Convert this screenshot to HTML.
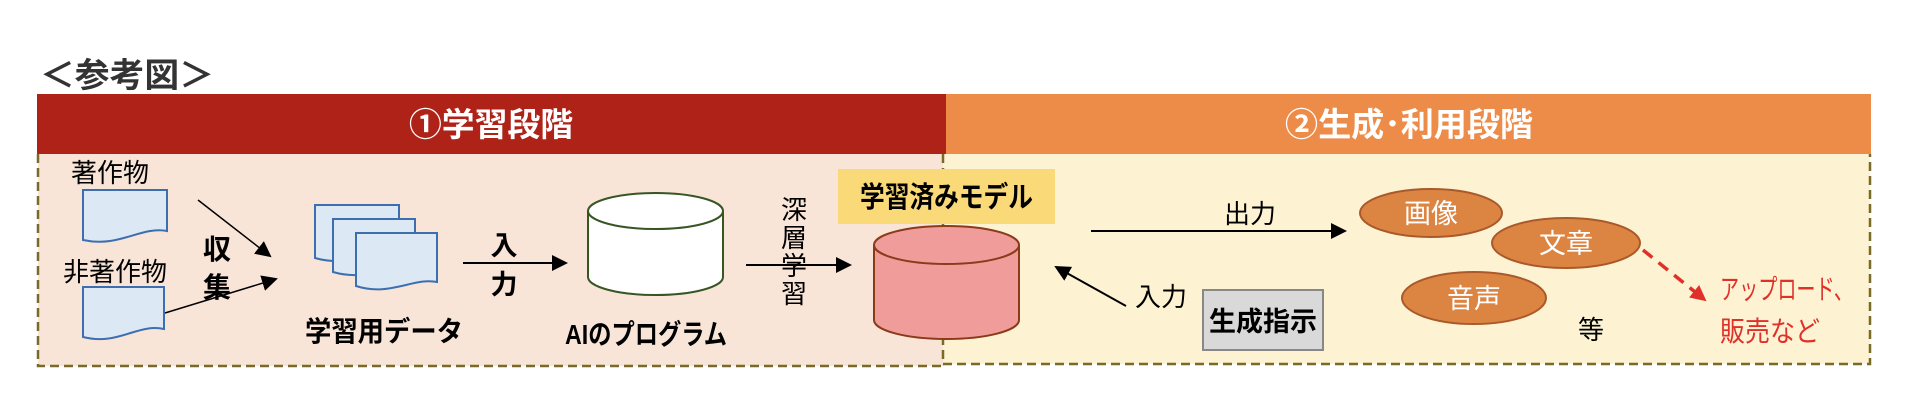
<!DOCTYPE html>
<html><head><meta charset="utf-8"><style>
html,body{margin:0;padding:0;background:#fff;width:1922px;height:410px;overflow:hidden}
svg text{font-family:"Liberation Sans","Noto Sans CJK JP",sans-serif}
</style></head><body>
<svg width="1922" height="410" viewBox="0 0 1922 410" xmlns="http://www.w3.org/2000/svg">
<defs>
<marker id="ahb" markerWidth="16" markerHeight="16" refX="14" refY="8" orient="auto" markerUnits="userSpaceOnUse" viewBox="0 0 16 16"><path d="M0,0 L16,8 L0,16 z" fill="#000"/></marker>
<marker id="ahr" markerWidth="16" markerHeight="16" refX="14" refY="8" orient="auto" markerUnits="userSpaceOnUse" viewBox="0 0 16 16"><path d="M0,0 L16,8 L0,16 z" fill="#e0302a"/></marker>
</defs>
<text x="40" y="87" font-size="34" fill="#333" font-weight="bold" textLength="174" lengthAdjust="spacingAndGlyphs">＜参考図＞</text>
<rect x="38" y="154" width="906" height="212" fill="#f8e5d8"/>
<rect x="943" y="154" width="927" height="210" fill="#fdf3d3"/>
<path d="M38,154 V366 H944" fill="none" stroke="#7a6a2a" stroke-width="2.5" stroke-dasharray="9,5"/>
<path d="M943,154 V364 H1870 V154" fill="none" stroke="#7a6a2a" stroke-width="2.5" stroke-dasharray="9,5"/>
<rect x="37" y="94" width="909" height="60" fill="#ae2218"/>
<rect x="946" y="94" width="925" height="60" fill="#ed8b48"/>
<text x="409" y="136" font-size="33" font-weight="bold" fill="#fff" textLength="164" lengthAdjust="spacingAndGlyphs">①学習段階</text>
<text x="1285" y="136" font-size="33" font-weight="bold" fill="#fff" textLength="248" lengthAdjust="spacingAndGlyphs">②生成･利用段階</text>
<text x="110" y="182" font-size="26" text-anchor="middle">著作物</text>
<path d="M83,190 H167 V231 C140,226 120,248 83,240 Z" fill="#dde8f5" stroke="#3d6fb0" stroke-width="2"/>
<text x="115" y="281" font-size="26" text-anchor="middle">非著作物</text>
<path d="M83,287 H164 V329 C138,323 118,346 83,337 Z" fill="#dde8f5" stroke="#3d6fb0" stroke-width="2"/>
<line x1="198" y1="200" x2="270" y2="256" stroke="#000" stroke-width="1.5" marker-end="url(#ahb)"/>
<line x1="165" y1="313" x2="276" y2="279" stroke="#000" stroke-width="1.5" marker-end="url(#ahb)"/>
<text x="217" y="259" font-size="28" font-weight="bold" text-anchor="middle">収</text>
<text x="217" y="297" font-size="28" font-weight="bold" text-anchor="middle">集</text>
<path d="M315,205 H399 V255 C375,250 350,268 315,258 Z" fill="#dde8f5" stroke="#3d6fb0" stroke-width="2"/>
<path d="M333,219 H415 V269 C392,264 367,282 333,272 Z" fill="#dde8f5" stroke="#3d6fb0" stroke-width="2"/>
<path d="M356,233 H437 V282 C414,277 390,297 356,286 Z" fill="#dde8f5" stroke="#3d6fb0" stroke-width="2"/>
<text x="305" y="341" font-size="28" font-weight="bold" textLength="158" lengthAdjust="spacingAndGlyphs">学習用データ</text>
<text x="504" y="255" font-size="27" font-weight="bold" text-anchor="middle">入</text>
<text x="504" y="294" font-size="27" font-weight="bold" text-anchor="middle">力</text>
<line x1="463" y1="263" x2="566" y2="263" stroke="#000" stroke-width="2" marker-end="url(#ahb)"/>
<path d="M588,211 V277 A67.5,18 0 0 0 723,277 V211" fill="#fff" stroke="#375623" stroke-width="2"/>
<ellipse cx="655.5" cy="211" rx="67.5" ry="18" fill="#fff" stroke="#375623" stroke-width="2"/>
<text x="565" y="344" font-size="28" font-weight="bold" textLength="162" lengthAdjust="spacingAndGlyphs">AIのプログラム</text>
<line x1="746" y1="265" x2="850" y2="265" stroke="#000" stroke-width="2" marker-end="url(#ahb)"/>
<g font-size="26" text-anchor="middle"><text x="794" y="219">深</text><text x="794" y="247">層</text><text x="794" y="275">学</text><text x="794" y="303">習</text></g>
<rect x="838" y="169" width="217" height="55" fill="#f9d978"/>
<text x="860" y="207" font-size="29" font-weight="bold" textLength="173" lengthAdjust="spacingAndGlyphs">学習済みモデル</text>
<path d="M874,245 V320 A72.5,19 0 0 0 1019,320 V245" fill="#f09c9a" stroke="#8b3a1a" stroke-width="2"/>
<ellipse cx="946.5" cy="245" rx="72.5" ry="19" fill="#f09c9a" stroke="#8b3a1a" stroke-width="2"/>
<text x="1250" y="223" font-size="26" text-anchor="middle">出力</text>
<line x1="1091" y1="231" x2="1345" y2="231" stroke="#000" stroke-width="2" marker-end="url(#ahb)"/>
<line x1="1126" y1="306" x2="1056" y2="267" stroke="#000" stroke-width="2" marker-end="url(#ahb)"/>
<text x="1161" y="306" font-size="26" text-anchor="middle">入力</text>
<rect x="1203" y="290" width="120" height="60" fill="#d9d9d9" stroke="#888" stroke-width="2"/>
<text x="1263" y="331" font-size="27" font-weight="bold" text-anchor="middle">生成指示</text>
<ellipse cx="1431" cy="213" rx="71" ry="24" fill="#dc8542" stroke="#a9592a" stroke-width="2"/>
<text x="1431" y="223" font-size="27" fill="#fff" text-anchor="middle">画像</text>
<ellipse cx="1566" cy="243" rx="74" ry="25" fill="#dc8542" stroke="#a9592a" stroke-width="2"/>
<text x="1566" y="253" font-size="27" fill="#fff" text-anchor="middle">文章</text>
<ellipse cx="1474" cy="298" rx="72" ry="26" fill="#dc8542" stroke="#a9592a" stroke-width="2"/>
<text x="1474" y="308" font-size="27" fill="#fff" text-anchor="middle">音声</text>
<text x="1591" y="339" font-size="26" text-anchor="middle">等</text>
<line x1="1643" y1="250" x2="1705" y2="300" stroke="#e0302a" stroke-width="3.5" stroke-dasharray="12,8" marker-end="url(#ahr)"/>
<text x="1720" y="299" font-size="28" fill="#e0302a" textLength="133" lengthAdjust="spacingAndGlyphs">アップロード、</text>
<text x="1720" y="341" font-size="28" fill="#e0302a" textLength="100" lengthAdjust="spacingAndGlyphs">販売など</text>
</svg>
</body></html>
